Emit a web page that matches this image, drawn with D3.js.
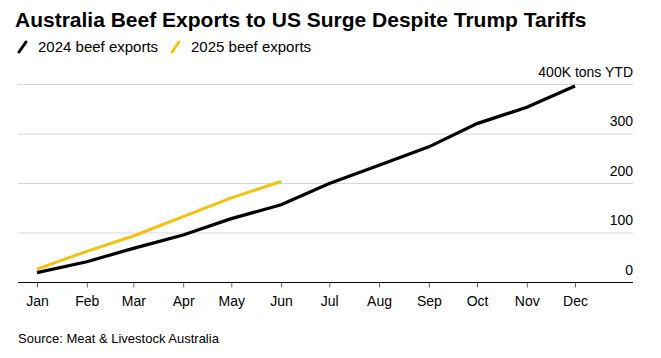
<!DOCTYPE html>
<html><head><meta charset="utf-8">
<script src="https://cdn.jsdelivr.net/npm/d3@7"></script>
<style>body{margin:0;background:#fff;}svg{display:block;font-family:"Liberation Sans",Arial,sans-serif;}</style>
</head><body><svg id="c" width="661" height="358"></svg>
<script>
const months = ["Jan","Feb","Mar","Apr","May","Jun","Jul","Aug","Sep","Oct","Nov","Dec"];
const exports2024 = [20, 42, 69, 96, 129, 157, 200, 237, 274, 321, 354, 397];
const exports2025 = [27, 63, 94, 133, 171, 204];
const yTicks = [0, 100, 200, 300, 400];
const yTickLabels = ["0", "100", "200", "300", "400K tons YTD"];

const svg = d3.select("#c");
const dates = months.map((m, i) => new Date(2024, i, 1));
const x = d3.scaleTime().domain([new Date(2024,0,1), new Date(2024,11,1)]).range([37, 575]);
const y = d3.scaleLinear().domain([0, 400]).range([282.5, 84.5]);
const left = 18, right = 633;

svg.append("text").attr("x", 15).attr("y", 27).attr("font-size", 21).attr("font-weight", "bold")
  .attr("fill", "#000").text("Australia Beef Exports to US Surge Despite Trump Tariffs");

// legend
const leg = [{label:"2024 beef exports", color:"#000", x:18},{label:"2025 beef exports", color:"#f5c10e", x:171}];
leg.forEach(l => {
  svg.append("line").attr("x1", l.x+1).attr("y1", 52).attr("x2", l.x+8).attr("y2", 42)
    .attr("stroke", l.color).attr("stroke-width", 3).attr("stroke-linecap","round");
  svg.append("text").attr("x", l.x+20).attr("y", 52).attr("font-size", 15).attr("fill","#000").text(l.label);
});

// gridlines
yTicks.forEach((t, i) => {
  if (t > 0) svg.append("line").attr("x1", left).attr("x2", right).attr("y1", y(t)).attr("y2", y(t))
    .attr("stroke", "#d6d6d6").attr("stroke-width", 1);
  svg.append("text").attr("x", right).attr("y", y(t) - 8).attr("text-anchor", "end")
    .attr("font-size", 14).attr("fill", "#000").text(yTickLabels[i]);
});

// x axis
const ax = svg.append("g").attr("transform", `translate(0,${y(0)})`)
  .call(d3.axisBottom(x).tickValues(dates).tickFormat((d,i)=>months[i]).tickSize(5).tickPadding(9));
ax.select(".domain").remove();
ax.selectAll(".tick line").attr("stroke", "#666");
ax.selectAll(".tick text").attr("font-size", 14).attr("fill", "#000").attr("font-family", '"Liberation Sans",Arial,sans-serif');
svg.append("line").attr("x1", left).attr("x2", right).attr("y1", y(0)).attr("y2", y(0)).attr("stroke", "#000").attr("stroke-width", 1);

const line = d3.line().x((d,i)=>x(dates[i])).y(d=>y(d));
svg.append("path").datum(exports2025).attr("d", line).attr("fill","none").attr("stroke","#f5c10e").attr("stroke-width",3);
svg.append("path").datum(exports2024).attr("d", line).attr("fill","none").attr("stroke","#000").attr("stroke-width",3.2);

svg.append("text").attr("x", 18).attr("y", 343).attr("font-size", 13).attr("fill","#000").text("Source: Meat & Livestock Australia");
</script></body></html>
